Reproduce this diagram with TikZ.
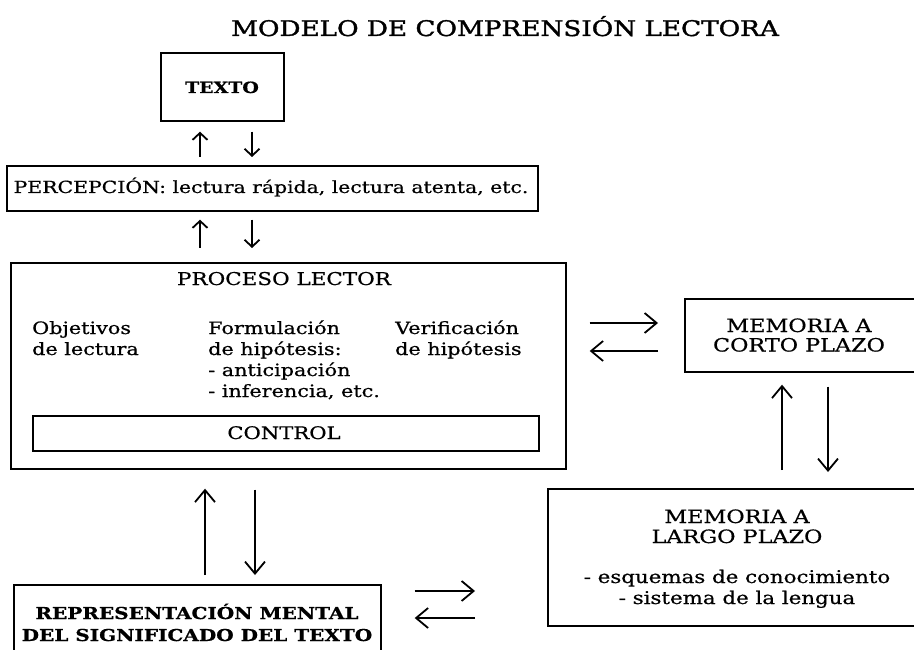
\documentclass[tikz,border=0pt]{standalone}
\usepackage{fontspec}
\setmainfont{DejaVu Serif}[FakeStretch=1.22, FakeBold=0.7]
\newfontfamily\titlefont{DejaVu Serif}[FakeStretch=1.22, FakeBold=1.6]
\usetikzlibrary{arrows.meta}
\begin{document}
\begin{tikzpicture}[x=1pt,y=-1pt,
  box/.style={draw, line width=1.7pt, inner sep=0pt, anchor=north west},
  txt/.style={inner sep=0pt},
  arrs/.style={line width=1.8pt, -{Straight Barb[length=7pt,width=15pt,line width=1.8pt]}},
  arrl/.style={line width=1.8pt, -{Straight Barb[length=12pt,width=20pt,line width=1.8pt]}},
  fbody/.style={font=\fontsize{17}{21}\selectfont},
  fmem/.style={font=\fontsize{18.3}{21}\selectfont},
  fbold/.style={font=\fontsize{16.4}{21}\selectfont\bfseries}
]
\useasboundingbox (0,0) rectangle (914,650);
\clip (0,0) rectangle (914,650);

% title
\node[txt, anchor=base, font=\titlefont\fontsize{21.5}{26}\selectfont] (title) at (505,36) {MODELO DE COMPRENSIÓN LECTORA};

% boxes
\node[box, minimum width=123pt, minimum height=68pt] (texto) at (160,52) {};
\node[txt, anchor=base, font=\fontsize{15.5}{18}\selectfont\bfseries] (textoT) at (222,93) {TEXTO};

\node[box, minimum width=531pt, minimum height=45pt] (percep) at (6,165) {};
\node[txt, anchor=base, font=\fontsize{16.7}{20}\selectfont] (percepT) at (271,193) {PERCEPCIÓN: lectura rápida, lectura atenta, etc.};

\node[box, minimum width=555pt, minimum height=206pt] (proceso) at (10,262) {};
\node[txt, anchor=base, font=\fontsize{17.6}{21}\selectfont] (procT) at (284,285) {PROCESO LECTOR};
\node[txt, anchor=base west, fbody] (obj1) at (32,334) {Objetivos};
\node[txt, anchor=base west, fbody] (obj2) at (32,355) {de lectura};
\node[txt, anchor=base west, fbody] (form1) at (208,334) {Formulación};
\node[txt, anchor=base west, fbody] (form2) at (208,355) {de hipótesis:};
\node[txt, anchor=base west, fbody] (form3) at (208,376) {- anticipación};
\node[txt, anchor=base west, fbody] (form4) at (208,397) {- inferencia, etc.};
\node[txt, anchor=base west, fbody] (ver1) at (395,334) {Verificación};
\node[txt, anchor=base west, fbody] (ver2) at (395,355) {de hipótesis};

\node[box, minimum width=506pt, minimum height=35pt] (control) at (32,415) {};
\node[txt, anchor=base, font=\fontsize{17.3}{21}\selectfont] (controlT) at (284,439) {CONTROL};

\node[box, minimum width=260pt, minimum height=73pt] (corto) at (684,298) {};
\node[txt, anchor=base, fmem] (corto1) at (799,332) {MEMORIA A};
\node[txt, anchor=base, fmem] (corto2) at (799,351.5) {CORTO PLAZO};

\node[box, minimum width=400pt, minimum height=137pt] (largo) at (547,488) {};
\node[txt, anchor=base, fmem] (largo1) at (737,523) {MEMORIA A};
\node[txt, anchor=base, fmem] (largo2) at (737,543) {LARGO PLAZO};
\node[txt, anchor=base, font=\fontsize{17.5}{21}\selectfont] (largo3) at (737,583) {- esquemas de conocimiento};
\node[txt, anchor=base, font=\fontsize{17.5}{21}\selectfont] (largo4) at (737,604) {- sistema de la lengua};

\node[box, minimum width=367pt, minimum height=100pt] (repr) at (13,584) {};
\node[txt, anchor=base, fbold] (repr1) at (197,619) {REPRESENTACIÓN MENTAL};
\node[txt, anchor=base, fbold] (repr2) at (197,641) {DEL SIGNIFICADO DEL TEXTO};

% arrow x/y guides
\coordinate (a1) at (200,0);
\coordinate (a2) at (252,0);
\coordinate (a3) at (205,0);
\coordinate (a4) at (255,0);
\coordinate (a5) at (782,0);
\coordinate (a6) at (828,0);
\coordinate (h1) at (0,323);
\coordinate (h2) at (0,351);
\coordinate (h3) at (0,591);
\coordinate (h4) at (0,618);

% TEXTO <-> PERCEPCION
\draw[arrs, shorten <=8pt, shorten >=10pt] (percep.north -| a1) -- (texto.south -| a1);
\draw[arrs, shorten <=10pt, shorten >=8pt] (texto.south -| a2) -- (percep.north -| a2);
% PERCEPCION <-> PROCESO
\draw[arrs, shorten <=14pt, shorten >=8pt] (proceso.north -| a1) -- (percep.south -| a1);
\draw[arrs, shorten <=8pt, shorten >=14pt] (percep.south -| a2) -- (proceso.north -| a2);
% PROCESO <-> CORTO
\draw[arrl, shorten <=23pt, shorten >=26pt] (proceso.east |- h1) -- (corto.west |- h1);
\draw[arrl, shorten <=26pt, shorten >=23pt] (corto.west |- h2) -- (proceso.east |- h2);
% CORTO <-> LARGO
\draw[arrl, shorten <=18pt, shorten >=12pt] (largo.north -| a5) -- (corto.south -| a5);
\draw[arrl, shorten <=14pt, shorten >=16pt] (corto.south -| a6) -- (largo.north -| a6);
% PROCESO <-> REPR
\draw[arrl, shorten <=9pt, shorten >=19pt] (repr.north -| a3) -- (proceso.south -| a3);
\draw[arrl, shorten <=20pt, shorten >=9pt] (proceso.south -| a4) -- (repr.north -| a4);
% REPR <-> LARGO
\draw[arrl, shorten <=33pt, shorten >=72pt] (repr.east |- h3) -- (largo.west |- h3);
\draw[arrl, shorten <=72pt, shorten >=33pt] (largo.west |- h4) -- (repr.east |- h4);
\end{tikzpicture}
\end{document}
